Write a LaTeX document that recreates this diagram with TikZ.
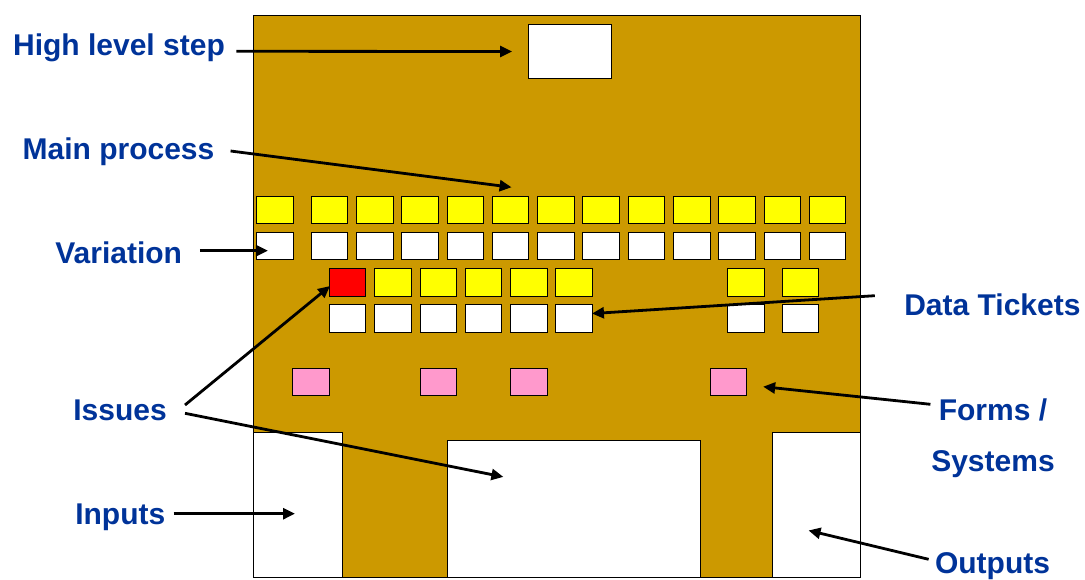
\documentclass[tikz,border=0pt]{standalone}
\usepackage{fontspec}
\setmainfont{Liberation Sans}
\usetikzlibrary{arrows.meta,calc}
\definecolor{procbrown}{HTML}{CC9900}
\definecolor{tickyellow}{HTML}{FFFF00}
\definecolor{issuered}{HTML}{FF0000}
\definecolor{formpink}{HTML}{FF99CC}
\definecolor{labelblue}{HTML}{003399}
\begin{document}
\begin{tikzpicture}[x=1pt,y=-1pt,
  cell/.style={draw=black, line width=0.9pt, minimum width=36.5pt, minimum height=27.5pt, inner sep=0pt, outer sep=0pt},
  ycell/.style={cell, fill=tickyellow},
  wcell/.style={cell, fill=white},
  rcell/.style={cell, fill=issuered},
  pcell/.style={cell, fill=formpink, minimum height=27pt},
  block/.style={draw=black, line width=0.8pt, fill=white, inner sep=0pt, outer sep=0pt, anchor=south west},
  lbl/.style={font=\fontsize{30}{34}\selectfont\bfseries, text=labelblue, inner sep=0pt, outer sep=0pt, anchor=base},
  arr/.style={line width=2.8pt, -{Triangle[length=12pt,width=11pt]}, shorten >=-1pt}
]
\useasboundingbox (0,0) rectangle (1085,580);

% process area
\node[draw=black, line width=0.8pt, fill=procbrown, minimum width=607.2pt, minimum height=562pt,
      inner sep=0pt, outer sep=0pt, anchor=north west] (frame) at (253.5,15) {};

% high level step
\node[wcell, minimum width=82.3pt, minimum height=54.4pt] (hl) at (569.9,51.5) {};

% main process and variation rows
\foreach \x [count=\i] in {275,329.4,374.7,420.0,465.3,510.6,555.9,601.1,646.4,691.7,737.0,782.3,827.6} {
  \node[ycell] (r1-\i) at (\x,209.9) {};
  \node[wcell] (r2-\i) at (\x,246.2) {};
}

% data ticket rows
\node[rcell] (r3-1) at (347.5,282.5) {};
\foreach \x [count=\i from 2] in {393,438.2,483.6,528.7,573.7,746.1,800.2} {
  \node[ycell] (r3-\i) at (\x,282.5) {};
}
\foreach \x [count=\i] in {347.5,393,438.2,483.6,528.7,573.7,746.1,800.2} {
  \node[wcell] (r4-\i) at (\x,318.5) {};
}

% forms / systems
\foreach \x [count=\i] in {311.1,438.3,528.8,728.2} {
  \node[pcell] (pk\i) at (\x,381.8) {};
}

% inputs, issues and outputs blocks
\node[block, minimum width=88.9pt, minimum height=145pt] (inl) at (253.5,577) {};
\node[block, minimum width=253.3pt, minimum height=136.3pt] (mid) at (447.4,577) {};
\node[block, minimum width=88.4pt, minimum height=145pt] (outr) at (772.3,577) {};

% labels
\node[lbl] (hls) at (119,55.7) {High level step};
\node[lbl] (mp) at (118.5,159.3) {Main process};
\node[lbl] (var) at (118.7,263.3) {Variation};
\node[lbl] (iss) at (120,420.7) {Issues};
\node[lbl] (inp) at (120.3,524.3) {Inputs};
\node[lbl] (dt) at (992.4,315.7) {Data Tickets};
\node[lbl] (fs1) at (993,420) {Forms /};
\node[lbl] (fs2) at (993,471.7) {Systems};
\node[lbl] (outp) at (992.5,573.5) {Outputs};

% pointers
\draw[arr] ($(hls.base east)+(11.6,-4.4)$) -- ([xshift=-17.7pt]hl.west);
\draw[arr] ($(mp.base east)+(16.2,-8.3)$) -- ([yshift=9pt]r1-6.north);
\draw[arr] ($(var.base east)+(17.8,-12.6)$) -- ([xshift=10.2pt,yshift=-4.5pt]r2-1.west);
\draw[arr] ($(iss.base east)+(18.3,-15.7)$) -- ([yshift=9.6pt]r3-1.south west);
\draw[arr] ($(iss.base east)+(18.3,-7.4)$) -- ([xshift=55pt,yshift=-36pt]mid.north west);
\draw[arr] ($(inp.base east)+(8.3,-10.6)$) -- ([xshift=40.5pt,yshift=-9.2pt]inl.west);
\draw[arr] ($(dt.base west)+(-29.5,-20)$) -- ([xshift=1pt,yshift=5pt]r4-6.east);
\draw[arr] ($(fs1.base west)+(-8.4,-15.7)$) -- ([xshift=17.7pt,yshift=-5pt]pk4.east);
\draw[arr] ($(outp.base west)+(-6.4,-14.2)$) -- ([xshift=37.2pt,yshift=-26.2pt]outr.west);
\end{tikzpicture}
\end{document}
